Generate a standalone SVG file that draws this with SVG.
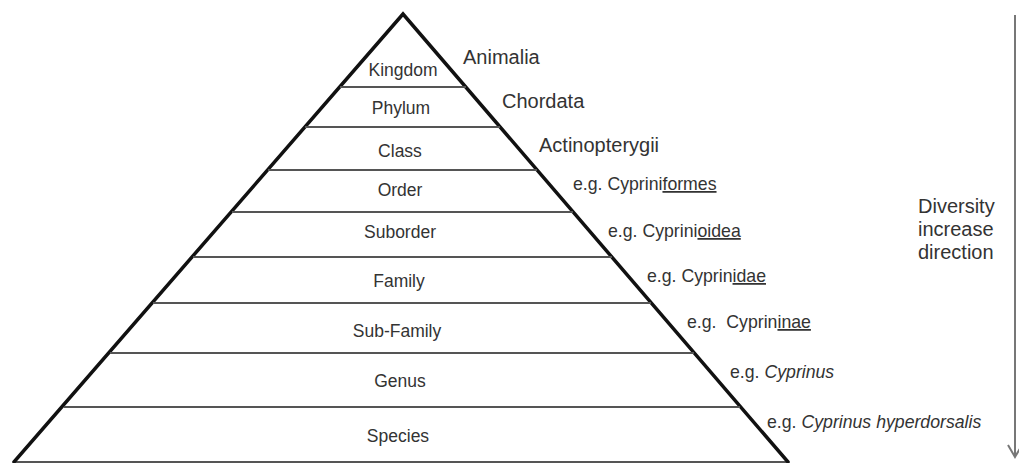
<svg xmlns="http://www.w3.org/2000/svg" width="1019" height="463" viewBox="0 0 1019 463">
<style>
text{font-family:"Liberation Sans",Arial,sans-serif;fill:#333}
.rank{font-size:17.5px;text-anchor:middle}
.big{font-size:20px}
.eg{font-size:17.7px}
.sep{stroke:#555;stroke-width:2;fill:none}
.edge{stroke:#111;stroke-width:3.5;fill:none;stroke-linecap:round}
.u{text-decoration:underline}
.arrow{stroke:#777;stroke-width:2;fill:none}
</style>
<g id="pyramid">
<line class="sep" x1="14" y1="462" x2="788" y2="462"/>
<polyline class="edge" points="14,462 403,14 788,462"/>
</g>
<g id="separators">
<line class="sep" x1="340" y1="87" x2="466" y2="87"/>
<line class="sep" x1="305" y1="127" x2="500" y2="127"/>
<line class="sep" x1="268" y1="170" x2="537" y2="170"/>
<line class="sep" x1="232" y1="212" x2="573" y2="212"/>
<line class="sep" x1="193" y1="257" x2="612" y2="257"/>
<line class="sep" x1="153" y1="303" x2="651" y2="303"/>
<line class="sep" x1="110" y1="353" x2="694" y2="353"/>
<line class="sep" x1="64" y1="407" x2="740" y2="407"/>
</g>
<g id="kingdom"><text class="rank" x="403" y="76">Kingdom</text><text class="big" x="463" y="64">Animalia</text></g>
<g id="phylum"><text class="rank" x="401" y="114">Phylum</text><text class="big" x="502" y="108">Chordata</text></g>
<g id="class"><text class="rank" x="400" y="157">Class</text><text class="big" x="539" y="152">Actinopterygii</text></g>
<g id="order"><text class="rank" x="400" y="196">Order</text><text class="eg" x="573" y="190">e.g. Cyprini<tspan class="u">formes</tspan></text></g>
<g id="suborder"><text class="rank" x="400" y="238">Suborder</text><text class="eg" x="608" y="237">e.g. Cyprini<tspan class="u">oidea</tspan></text></g>
<g id="family"><text class="rank" x="399" y="287">Family</text><text class="eg" x="647" y="282">e.g. Cyprin<tspan class="u">idae</tspan></text></g>
<g id="subfamily"><text class="rank" x="397" y="337">Sub-Family</text><text class="eg" x="687" y="328" xml:space="preserve">e.g.  Cyprin<tspan class="u">inae</tspan></text></g>
<g id="genus"><text class="rank" x="400" y="387">Genus</text><text class="eg" x="730" y="378">e.g. <tspan font-style="italic">Cyprinus</tspan></text></g>
<g id="species"><text class="rank" x="398" y="442">Species</text><text class="eg" x="767" y="428">e.g. <tspan font-style="italic">Cyprinus hyperdorsalis</tspan></text></g>
<g id="diversity">
<text class="big" x="918" y="213">Diversity</text>
<text class="big" x="918" y="236">increase</text>
<text class="big" x="918" y="259">direction</text>
</g>
<g id="connectors">
<line class="arrow" x1="1015" y1="15" x2="1015" y2="456"/>
<polyline class="arrow" points="1008,445 1015,457 1022,445"/>
</g>
</svg>
